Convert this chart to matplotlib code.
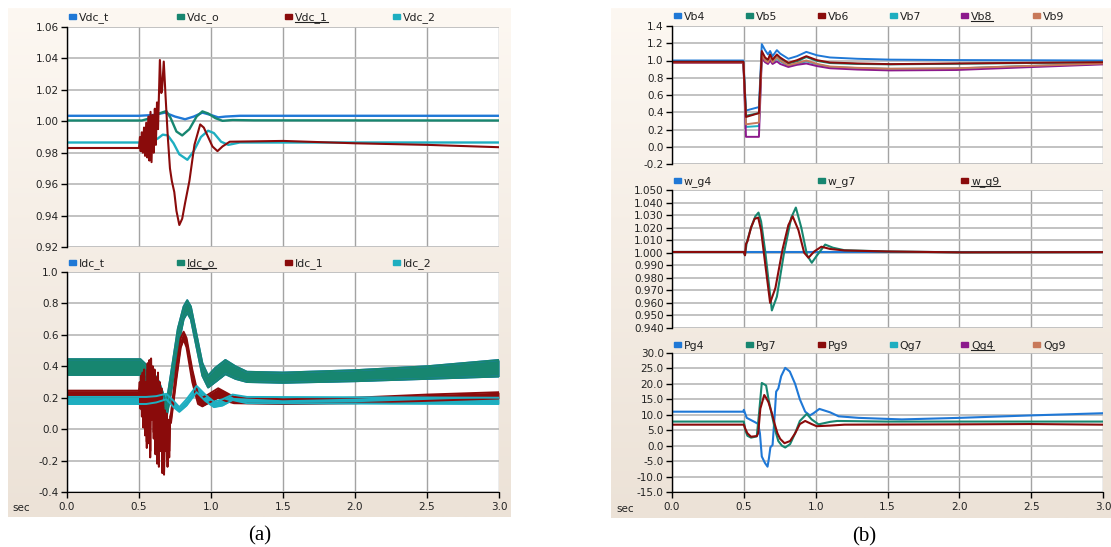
import numpy as np
import matplotlib
matplotlib.use("Agg")
import matplotlib.pyplot as plt
from matplotlib.colors import LinearSegmentedColormap
from matplotlib.patches import Rectangle
from matplotlib.lines import Line2D

plt.rcParams['font.family'] = ['DejaVu Sans']

# ---------------- DATA ----------------
# (a) top : DC voltages
vdc_t_t = [0, 0.50, 0.60, 0.68, 0.75, 0.82, 0.88, 0.94, 1.00, 1.05, 1.10, 1.20, 3.00]
vdc_t_v = [1.0035, 1.0035, 1.004, 1.0055, 1.003, 1.0013, 1.003, 1.0055, 1.004, 1.0025, 1.003, 1.0035, 1.0035]

vdc_o_t = [0, 0.52, 0.58, 0.64, 0.69, 0.72, 0.76, 0.80, 0.85, 0.90, 0.94, 0.98, 1.03, 1.08, 1.15, 1.30, 3.00]
vdc_o_v = [1.0005, 1.0005, 1.002, 1.005, 1.0065, 1.002, 0.9935, 0.991, 0.995, 1.003, 1.0063, 1.005, 1.002, 1.0003, 1.0008, 1.0006, 1.0005]

vdc_1_t = [0, 0.500, 0.507, 0.512, 0.520, 0.527, 0.535, 0.542, 0.550, 0.557, 0.565, 0.572,
           0.580, 0.587, 0.595, 0.602, 0.610, 0.617, 0.625, 0.632, 0.645, 0.655, 0.660, 0.672,
           0.685, 0.700, 0.715, 0.728, 0.745, 0.760, 0.780, 0.800, 0.820, 0.850, 0.885, 0.925,
           0.950, 0.980, 1.010, 1.045, 1.080, 1.130, 1.500, 2.000, 2.500, 3.000]
vdc_1_v = [0.983, 0.983, 0.990, 0.981, 0.993, 0.980, 0.996, 0.978, 0.999, 0.977, 1.003, 0.975,
           1.006, 0.974, 1.004, 0.980, 1.008, 0.985, 1.012, 0.995, 1.039, 1.018, 1.020, 1.038,
           1.015, 0.990, 0.970, 0.962, 0.955, 0.943, 0.934, 0.938, 0.948, 0.962, 0.985, 0.998,
           0.996, 0.990, 0.984, 0.981, 0.984, 0.987, 0.9875, 0.986, 0.985, 0.9835]

vdc_2_t = [0, 0.50, 0.60, 0.63, 0.665, 0.70, 0.74, 0.78, 0.836, 0.88, 0.93, 0.98, 1.02, 1.07, 1.12, 1.20, 3.00]
vdc_2_v = [0.9865, 0.9865, 0.9875, 0.989, 0.9915, 0.991, 0.986, 0.979, 0.9755, 0.981, 0.990, 0.994, 0.9925, 0.987, 0.985, 0.9865, 0.9865]

# (a) bottom : DC currents (noisy bands: lower / upper envelope)
idc_o_t  = [0, 0.51, 0.55, 0.60, 0.64, 0.67, 0.69, 0.72, 0.77, 0.81, 0.835, 0.86, 0.90, 0.94,
            0.98, 1.03, 1.10, 1.17, 1.25, 1.50, 2.00, 2.50, 3.00]
idc_o_hi = [0.445, 0.445, 0.41, 0.36, 0.30, 0.22, 0.16, 0.34, 0.64, 0.78, 0.82, 0.78, 0.60, 0.42,
            0.34, 0.39, 0.44, 0.40, 0.365, 0.36, 0.375, 0.40, 0.44]
idc_o_lo = [0.345, 0.345, 0.31, 0.26, 0.20, 0.12, 0.07, 0.22, 0.52, 0.70, 0.74, 0.70, 0.52, 0.34,
            0.265, 0.30, 0.35, 0.32, 0.30, 0.295, 0.305, 0.32, 0.335]
idc_t_t, idc_t_hi, idc_t_lo = idc_o_t, idc_o_hi, idc_o_lo   # Idc_t lies under Idc_o

idc_1_t  = [0, 0.500, 0.505, 0.510, 0.515, 0.520, 0.525, 0.530, 0.536, 0.542, 0.548, 0.554,
            0.560, 0.566, 0.572, 0.578, 0.584, 0.590, 0.596, 0.602, 0.608, 0.614, 0.620,
            0.626, 0.632, 0.638, 0.644, 0.650, 0.656, 0.662, 0.668, 0.674, 0.680, 0.686,
            0.692, 0.698, 0.704, 0.710, 0.716, 0.722, 0.760, 0.790, 0.810, 0.830, 0.870,
            0.910, 0.940, 0.980, 1.050, 1.100, 1.160, 1.500, 2.000, 2.500, 3.000]
idc_1_hi = [0.245, 0.245, 0.30, 0.17, 0.34, 0.12, 0.36, 0.05, 0.38, 0.00, 0.30, -0.08,
            0.42, -0.05, 0.44, -0.14, 0.45, 0.10, 0.40, -0.02, 0.38, -0.12, 0.33,
            -0.18, 0.36, -0.20, 0.30, -0.10, 0.26, -0.24, 0.18, -0.27, 0.12, -0.10,
            0.10, -0.20, 0.06, -0.14, 0.08, 0.10, 0.40, 0.58, 0.62, 0.58, 0.38,
            0.22, 0.20, 0.22, 0.26, 0.235, 0.205, 0.19, 0.20, 0.22, 0.235]
idc_1_lo = [0.205, 0.205, 0.26, 0.13, 0.30, 0.08, 0.32, 0.01, 0.34, -0.04, 0.26, -0.12,
            0.38, -0.09, 0.40, -0.18, 0.41, 0.06, 0.36, -0.06, 0.34, -0.16, 0.29,
            -0.22, 0.32, -0.24, 0.26, -0.14, 0.22, -0.28, 0.14, -0.29, 0.08, -0.14,
            0.06, -0.24, 0.02, -0.18, 0.04, 0.04, 0.32, 0.52, 0.57, 0.52, 0.30,
            0.16, 0.145, 0.165, 0.20, 0.18, 0.165, 0.16, 0.165, 0.18, 0.195]

idc_2_t  = [0, 0.55, 0.62, 0.69, 0.74, 0.78, 0.83, 0.90, 0.96, 1.02, 1.08, 1.15, 1.25, 3.00]
idc_2_hi = [0.205, 0.205, 0.21, 0.225, 0.18, 0.14, 0.19, 0.275, 0.22, 0.175, 0.19, 0.22, 0.205, 0.20]
idc_2_lo = [0.160, 0.160, 0.17, 0.190, 0.14, 0.11, 0.15, 0.235, 0.18, 0.140, 0.15, 0.185, 0.165, 0.16]

# (b) top : bus voltages
vb_t  = [0, 0.497, 0.515, 0.605, 0.625, 0.648, 0.668, 0.683, 0.700, 0.730, 0.753, 0.810,
         0.870, 0.935, 1.010, 1.100, 1.290, 1.520, 1.980, 2.440, 3.000]
vb4_v = [1.000, 1.000, 0.420, 0.460, 1.190, 1.120, 1.070, 1.110, 1.050, 1.120, 1.080, 1.020,
         1.050, 1.100, 1.060, 1.035, 1.020, 1.010, 1.005, 1.003, 1.000]
vb5_v = [0.985, 0.985, 0.360, 0.390, 1.090, 1.020, 1.000, 1.060, 1.000, 1.060, 1.020, 0.965,
         0.990, 1.040, 0.995, 0.970, 0.960, 0.955, 0.962, 0.970, 0.978]
vb6_v = [0.985, 0.985, 0.345, 0.390, 1.110, 1.035, 1.010, 1.070, 1.010, 1.070, 1.035, 0.973,
         1.004, 1.050, 1.004, 0.977, 0.966, 0.958, 0.966, 0.973, 0.980]
vb7_v = [0.978, 0.978, 0.230, 0.240, 1.060, 0.990, 0.970, 1.030, 0.970, 1.030, 0.990, 0.940,
         0.960, 0.990, 0.955, 0.925, 0.912, 0.903, 0.908, 0.935, 0.962]
vb8_v = [0.972, 0.972, 0.115, 0.115, 1.030, 0.980, 0.960, 1.000, 0.960, 0.990, 0.960, 0.925,
         0.950, 0.965, 0.935, 0.910, 0.895, 0.885, 0.890, 0.920, 0.955]
vb9_v = [0.976, 0.976, 0.260, 0.280, 1.070, 1.000, 0.980, 1.040, 0.980, 1.040, 1.000, 0.945,
         0.970, 1.000, 0.960, 0.930, 0.915, 0.905, 0.910, 0.935, 0.965]

# (b) middle : generator speeds
wg4_t = [0, 3.0]
wg4_v = [1.0006, 1.0006]
wg7_t = [0, 0.50, 0.508, 0.52, 0.55, 0.58, 0.602, 0.62, 0.65, 0.695, 0.73, 0.78, 0.83, 0.862,
         0.90, 0.94, 0.973, 1.01, 1.066, 1.12, 1.20, 1.50, 2.00, 3.00]
wg7_v = [1.0006, 1.0006, 0.998, 1.008, 1.020, 1.029, 1.032, 1.025, 1.000, 0.954, 0.965, 1.000,
         1.028, 1.036, 1.020, 0.998, 0.992, 0.998, 1.0065, 1.004, 1.002, 1.001, 1.0003, 1.0005]
wg9_t = [0, 0.50, 0.508, 0.515, 0.525, 0.55, 0.575, 0.60, 0.62, 0.65, 0.683, 0.72, 0.77, 0.81,
         0.84, 0.88, 0.92, 0.95, 0.99, 1.04, 1.10, 1.20, 1.50, 2.00, 3.00]
wg9_v = [1.0006, 1.0006, 0.998, 1.007, 1.009, 1.020, 1.027, 1.028, 1.018, 0.990, 0.960, 0.972,
         1.003, 1.022, 1.029, 1.018, 1.000, 0.996, 1.001, 1.0048, 1.003, 1.0018, 1.001, 1.0003, 1.0005]

# (b) bottom : generator powers
pg4_t = [0, 0.496, 0.50, 0.52, 0.578, 0.600, 0.612, 0.625, 0.647, 0.665, 0.675, 0.685, 0.700,
         0.712, 0.725, 0.74, 0.76, 0.788, 0.82, 0.857, 0.89, 0.927, 0.96, 0.985, 1.026, 1.10,
         1.16, 1.30, 1.60, 2.00, 2.50, 3.00]
pg4_v = [11.0, 11.0, 11.6, 9.0, 7.6, 7.0, 4.0, -3.5, -5.6, -6.8, -4.0, -0.5, 0.2,
         8.0, 17.5, 18.5, 22.5, 25.2, 24.0, 20.0, 15.0, 11.0, 9.8, 10.5, 11.9, 10.8,
         9.5, 9.0, 8.5, 9.0, 9.8, 10.5]
pg7_t = [0, 0.50, 0.51, 0.525, 0.55, 0.59, 0.605, 0.625, 0.655, 0.672, 0.695, 0.718, 0.74,
         0.765, 0.788, 0.822, 0.857, 0.89, 0.938, 0.972, 1.02, 1.10, 1.15, 1.50, 3.00]
pg7_v = [7.8, 7.8, 5.0, 3.2, 2.6, 3.0, 10.0, 20.3, 19.5, 15.0, 10.0, 5.0, 1.5,
         0.0, -0.6, 0.5, 4.0, 8.0, 10.3, 8.5, 6.9, 7.7, 8.0, 7.8, 7.8]
pg9_t = [0, 0.50, 0.51, 0.525, 0.55, 0.59, 0.60, 0.615, 0.642, 0.655, 0.672, 0.695, 0.718,
         0.734, 0.753, 0.783, 0.822, 0.857, 0.89, 0.927, 0.972, 1.007, 1.10, 1.20, 2.00, 2.50, 3.00]
pg9_v = [6.8, 6.8, 5.5, 4.0, 2.9, 3.1, 4.0, 12.0, 16.4, 15.5, 14.0, 10.5, 6.5,
         4.0, 2.2, 0.8, 1.5, 4.0, 7.0, 8.0, 7.0, 6.3, 6.5, 6.8, 6.9, 7.0, 6.8]

# tick labels
x_ticks = [0.0, 0.5, 1.0, 1.5, 2.0, 2.5, 3.0]
vdc_ticks = [0.92, 0.94, 0.96, 0.98, 1.00, 1.02, 1.04, 1.06]
idc_ticks = [-0.4, -0.2, 0.0, 0.2, 0.4, 0.6, 0.8, 1.0]
vb_ticks = [-0.2, 0.0, 0.2, 0.4, 0.6, 0.8, 1.0, 1.2, 1.4]
wg_ticks = [0.940, 0.950, 0.960, 0.970, 0.980, 0.990, 1.000, 1.010, 1.020, 1.030, 1.040, 1.050]
pg_ticks = [-15.0, -10.0, -5.0, 0.0, 5.0, 10.0, 15.0, 20.0, 25.0, 30.0]

# ---------------- STYLE ----------------
BLUE = '#1f78d6'
GREEN = '#178670'
DRED = '#8a0b0b'
CYAN = '#1eaec0'
PURPLE = '#8c198c'
ORANGE = '#c8795a'

W, H = 1111, 547
fig = plt.figure(figsize=(W / 100, H / 100), dpi=100)
fig.patch.set_facecolor('white')


def rect(x0, y0, x1, y1):
    return [x0 / W, 1 - y1 / H, (x1 - x0) / W, (y1 - y0) / H]


cmap = LinearSegmentedColormap.from_list('bg', ['#fdf8f2', '#ece2d7'])
for box in [(8, 8, 510, 517), (611, 8, 1111, 518)]:
    bg = fig.add_axes(rect(*box), zorder=0)
    bg.imshow(np.linspace(0, 1, 256).reshape(-1, 1), aspect='auto', cmap=cmap,
              extent=[0, 1, 0, 1])
    bg.set_axis_off()


def make_ax(box, ticks, fmt, bottom=False):
    ax = fig.add_axes(rect(*box), zorder=2)
    ax.set_facecolor('white')
    ax.set_xlim(0, 3.0)
    ax.set_ylim(ticks[0], ticks[-1])
    ax.set_yticks(ticks)
    ax.set_yticklabels([fmt.format(t) for t in ticks])
    ax.set_xticks(x_ticks)
    ax.set_axisbelow(True)
    ax.grid(axis='y', color='#bdbdbd', lw=1.3)
    ax.grid(axis='x', color='#a3a3a3', lw=1.0)
    for s in ['top', 'right']:
        ax.spines[s].set_visible(False)
    ax.spines['left'].set_color('black')
    ax.spines['left'].set_linewidth(1.0)
    ax.tick_params(axis='y', direction='out', length=4, width=1, labelsize=7.5,
                   colors='black', labelcolor='#222222', pad=2)
    if bottom:
        ax.spines['bottom'].set_color('black')
        ax.tick_params(axis='x', direction='out', length=4, width=1, labelsize=7.5,
                       labelcolor='#222222', pad=3)
        ax.set_xticklabels(['{:.1f}'.format(t) for t in x_ticks])
    else:
        ax.spines['bottom'].set_visible(False)
        ax.tick_params(axis='x', length=0, labelbottom=False)
    return ax


underlines = []


def legend(ax_box, labels, colors, ypx, nslots, uidx):
    x0, _, x1, _ = ax_box
    step = (x1 - x0) / nslots
    for i, (lab, col) in enumerate(zip(labels, colors)):
        sx = x0 + 2 + i * step
        fig.patches.append(Rectangle((sx / W, 1 - (ypx + 1) / H), 7 / W, 5 / H,
                                     transform=fig.transFigure, color=col, zorder=5))
        t = fig.text((sx + 10) / W, 1 - ypx / H, lab, fontsize=7.8, color='#222222',
                     va='center', ha='left', zorder=5)
        if i == uidx:
            underlines.append(t)


# ---- (a) top
boxA1 = (67, 27, 499, 247)
ax = make_ax(boxA1, vdc_ticks, '{:.2f}')
ax.plot(vdc_t_t, vdc_t_v, color=BLUE, lw=1.7)
ax.plot(vdc_o_t, vdc_o_v, color=GREEN, lw=1.7)
ax.plot(vdc_2_t, vdc_2_v, color=CYAN, lw=1.7)
ax.plot(vdc_1_t, vdc_1_v, color=DRED, lw=1.5)
legend(boxA1, ['Vdc_t', 'Vdc_o', 'Vdc_1', 'Vdc_2'], [BLUE, GREEN, DRED, CYAN], 18, 4, 2)

# ---- (a) bottom
boxA2 = (67, 272, 499, 492)
ax = make_ax(boxA2, idc_ticks, '{:.1f}', bottom=True)
for tt, lo, hi, col in [(idc_t_t, idc_t_lo, idc_t_hi, BLUE),
                        (idc_o_t, idc_o_lo, idc_o_hi, GREEN),
                        (idc_1_t, idc_1_lo, idc_1_hi, DRED),
                        (idc_2_t, idc_2_lo, idc_2_hi, CYAN)]:
    ax.fill_between(tt, lo, hi, color=col, lw=0)
    ax.plot(tt, lo, color=col, lw=1.4)
    ax.plot(tt, hi, color=col, lw=1.4)
legend(boxA2, ['Idc_t', 'Idc_o', 'Idc_1', 'Idc_2'], [BLUE, GREEN, DRED, CYAN], 264, 4, 1)

# ---- (b) top
boxB1 = (672, 26, 1103, 164)
ax = make_ax(boxB1, vb_ticks, '{:.1f}')
for v, col in [(vb4_v, BLUE), (vb5_v, GREEN), (vb7_v, CYAN), (vb8_v, PURPLE),
               (vb9_v, ORANGE), (vb6_v, DRED)]:
    ax.plot(vb_t, v, color=col, lw=1.4)
legend(boxB1, ['Vb4', 'Vb5', 'Vb6', 'Vb7', 'Vb8', 'Vb9'],
       [BLUE, GREEN, DRED, CYAN, PURPLE, ORANGE], 17, 6, 4)

# ---- (b) middle
boxB2 = (672, 190, 1103, 328)
ax = make_ax(boxB2, wg_ticks, '{:.3f}')
ax.plot(wg4_t, wg4_v, color=BLUE, lw=1.5)
ax.plot(wg7_t, wg7_v, color=GREEN, lw=1.5)
ax.plot(wg9_t, wg9_v, color=DRED, lw=1.5)
legend(boxB2, ['w_g4', 'w_g7', 'w_g9'], [BLUE, GREEN, DRED], 182, 3, 2)

# ---- (b) bottom
boxB3 = (672, 353, 1103, 492)
ax = make_ax(boxB3, pg_ticks, '{:.1f}', bottom=True)
ax.plot(pg4_t, pg4_v, color=BLUE, lw=1.5)
ax.plot(pg7_t, pg7_v, color=GREEN, lw=1.5)
ax.plot(pg9_t, pg9_v, color=DRED, lw=1.5)
legend(boxB3, ['Pg4', 'Pg7', 'Pg9', 'Qg7', 'Qg4', 'Qg9'],
       [BLUE, GREEN, DRED, CYAN, PURPLE, ORANGE], 346, 6, 4)

# axis unit labels and captions
fig.text(21 / W, 1 - 508 / H, 'sec', fontsize=7.5, color='#222222', ha='center', va='center', zorder=5)
fig.text(625 / W, 1 - 509 / H, 'sec', fontsize=7.5, color='#222222', ha='center', va='center', zorder=5)
fig.text(260 / W, 1 - 536 / H, '(a)', fontsize=15, family='Liberation Serif',
         ha='center', va='center')
fig.text(864 / W, 1 - 537 / H, '(b)', fontsize=15, family='Liberation Serif',
         ha='center', va='center')

# underline the selected legend entries
fig.canvas.draw()
r = fig.canvas.get_renderer()
for t in underlines:
    bb = t.get_window_extent(r)
    yb = bb.y0 + 1
    fig.lines.append(Line2D([bb.x0 / W, bb.x1 / W], [yb / H, yb / H], transform=fig.transFigure,
                            color='#222222', lw=0.8, zorder=6))

fig.savefig('out.png', dpi=100)
